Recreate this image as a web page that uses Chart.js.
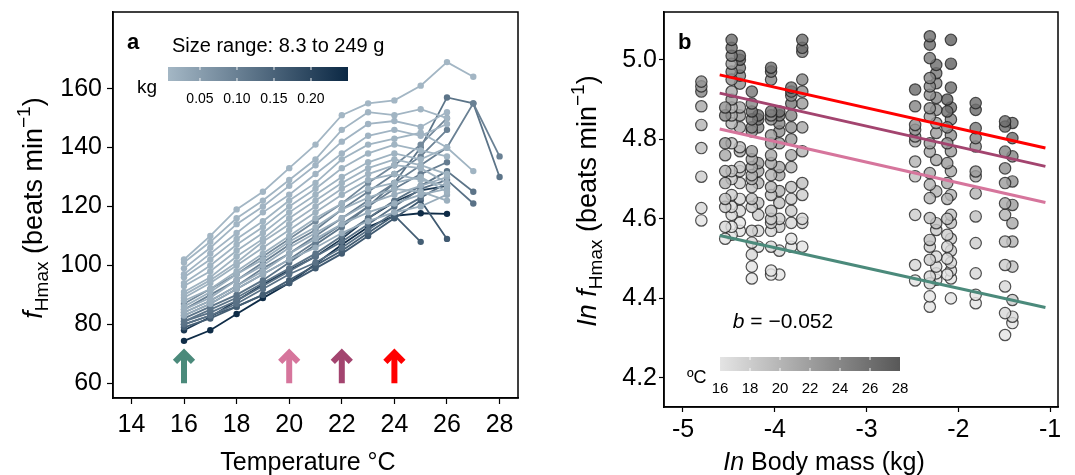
<!DOCTYPE html>
<html>
<head>
<meta charset="utf-8">
<script src="https://cdn.jsdelivr.net/npm/chart.js@4.4.1/dist/chart.umd.min.js"></script>
<style>
  body { margin: 0; background: #fff; }
  #wrap { position: relative; width: 1075px; height: 475px; }
  #chart-a { position: absolute; left: 0; top: 0; }
  #chart-b { position: absolute; left: 545px; top: 0; }
</style>
</head>
<body>
<div id="wrap">
  <canvas id="chart-a" width="545" height="475"></canvas>
  <canvas id="chart-b" width="530" height="475"></canvas>
</div>
<script>
// Panel a: heart rate of each fish against temperature
const tempsA = [16, 17, 18, 19, 20, 21, 22, 23, 24, 25, 26, 27, 28];
const tempTicks = [14, 16, 18, 20, 22, 24, 26, 28];
const rateTicks = [60, 80, 100, 120, 140, 160];
const arrowTemps = [16, 20, 22, 24];
const massTicksKg = [0.05, 0.10, 0.15, 0.20];

const fishMass = [
  0.0082, 0.0107, 0.0114, 0.0114, 0.0125, 0.0125, 0.0143, 0.0143,
  0.0153, 0.0176, 0.0176, 0.0193, 0.0219, 0.024, 0.0252,
  0.0854, 0.0993, 0.0993, 0.1065, 0.121, 0.121, 0.126, 0.126, 0.159, 0.165,
  0.225, 0.244,
];
const fishRate = [
  [102, 110, 119, 125, 133, 141, 151, 155, 156, 161, 169, 164],
  [101, 108, 116, 122, 129, 136, 146, 152, 151, 153, 150],
  [99, 106, 114, 120, 127, 134, 142, 148, 149, 147, 152],
  [97, 104, 111, 118, 124, 131, 138, 144, 146, 144, 148],
  [96, 102, 109, 115, 122, 128, 136, 141, 143, 145, 140, 132],
  [94, 100, 107, 113, 120, 126, 133, 138, 141, 139, 137],
  [93, 98, 105, 111, 118, 124, 130, 135, 138, 136, 140],
  [91, 96, 103, 109, 116, 122, 128, 133, 136, 134, 131],
  [90, 95, 101, 108, 114, 120, 126, 131, 134, 133, 128],
  [89, 94, 100, 106, 112, 118, 124, 129, 131, 129, 127],
  [88, 92, 98, 104, 110, 116, 121, 126, 128, 130, 125],
  [86, 91, 97, 102, 108, 113, 119, 123, 126, 125, 122],
  [85, 89, 95, 100, 106, 111, 116, 121, 124, 127, 130],
  [84, 88, 93, 98, 104, 109, 114, 118, 121, 124, 126],
  [83, 87, 92, 97, 102, 106, 111, 115, 118, 120, 124],
  [87, 92, 97, 103, 109, 115, 121, 128, 134, 141, 150],
  [85, 90, 95, 101, 107, 112, 119, 125, 131, 137, 146],
  [84, 88, 93, 99, 104, 110, 116, 122, 128, 134, 140, 155, 137],
  [83, 87, 92, 97, 102, 108, 114, 120, 126, 131, 135],
  [82, 86, 90, 95, 101, 107, 113, 120, 128, 140, 157, 155, 130],
  [81, 85, 89, 94, 99, 104, 110, 116, 122, 127, 132, 125],
  [81, 84, 88, 93, 98, 103, 108, 114, 120, 126, 129, 121],
  [80, 83, 87, 92, 97, 101, 106, 112, 118, 123, 128],
  [79, 82, 86, 90, 95, 100, 105, 111, 117, 108],
  [80, 83, 86, 90, 94, 99, 104, 110, 116, 122, 109],
  [78, 82.5, 88, 93.5, 98.4, 103, 109, 116, 121.5, 125.5, 127],
  [74.4, 78, 83.5, 88.9, 94, 100.5, 107, 113, 116.8, 117.7, 117.5],
];

// Panel b: ln heart rate against ln body mass, one column per body mass
const massLn = [-4.80, -4.54, -4.47, -4.38, -4.25, -4.18, -4.04, -3.95, -3.82, -3.70,
  -2.47, -2.31, -2.24, -2.12, -2.08, -1.81, -1.49, -1.41];
const lnRate = [
  [4.596, 4.627, 4.706, 4.778, 4.836, 4.883, 4.920, 4.933, 4.945],
  [4.55, 4.58, 4.63, 4.65, 4.69, 4.72, 4.76, 4.79, 4.86, 4.88],
  [4.56, 4.58, 4.61, 4.63, 4.66, 4.70, 4.72, 4.79, 4.84, 4.86, 4.88, 4.90, 4.92, 4.95, 4.97, 4.99, 5.01, 5.03, 5.05],
  [4.57, 4.59, 4.62, 4.65, 4.69, 4.72, 4.73, 4.77, 4.78, 4.83, 4.86, 4.88, 4.94, 4.96, 4.98, 5.00, 5.01],
  [4.45, 4.48, 4.51, 4.54, 4.57, 4.63, 4.65, 4.68, 4.70, 4.71, 4.73, 4.75, 4.77, 4.82, 4.83, 4.85, 4.87, 4.89, 4.92],
  [4.53, 4.57, 4.61, 4.64, 4.69, 4.72, 4.74, 4.83, 4.85, 4.86],
  [4.46, 4.47, 4.53, 4.57, 4.59, 4.60, 4.62, 4.66, 4.68, 4.71, 4.74, 4.76, 4.79, 4.81, 4.85, 4.86, 4.87, 4.95, 4.97, 4.98],
  [4.46, 4.52, 4.58, 4.60, 4.64, 4.67, 4.71, 4.73, 4.79, 4.82, 4.84, 4.86, 4.87],
  [4.53, 4.55, 4.59, 4.62, 4.65, 4.68, 4.73, 4.76, 4.80, 4.83, 4.86, 4.89, 4.91, 4.92, 4.93],
  [4.53, 4.59, 4.60, 4.66, 4.69, 4.77, 4.83, 4.89, 4.92, 4.95, 5.02, 5.03, 5.05],
  [4.445, 4.484, 4.61, 4.707, 4.744, 4.795, 4.807, 4.824, 4.836, 4.883, 4.925],
  [4.379, 4.405, 4.438, 4.455, 4.497, 4.53, 4.547, 4.602, 4.652, 4.686, 4.715, 4.769, 4.79, 4.857, 4.878, 4.912, 4.933, 4.954, 5.004, 5.038, 5.059],
  [4.447, 4.463, 4.48, 4.505, 4.572, 4.589, 4.669, 4.748, 4.816, 4.841, 4.874, 4.904, 4.941, 4.966, 4.987],
  [4.46, 4.50, 4.53, 4.56, 4.60, 4.65, 4.69, 4.74, 4.79, 4.83, 4.87, 4.90],
  [4.40, 4.45, 4.47, 4.49, 4.52, 4.55, 4.59, 4.61, 4.66, 4.72, 4.77, 4.81, 4.85, 4.88, 4.93, 4.99, 5.05],
  [4.388, 4.409, 4.463, 4.539, 4.606, 4.664, 4.707, 4.719, 4.782, 4.803, 4.828, 4.874, 4.891],
  [4.308, 4.363, 4.43, 4.484, 4.543, 4.61, 4.639, 4.69, 4.727, 4.769, 4.832, 4.845],
  [4.338, 4.354, 4.396, 4.48, 4.543, 4.589, 4.635, 4.694, 4.757, 4.803, 4.841],
];
const lnTemp = [
  [16, 17, 18, 19, 20, 21, 24, 22, 23],
  [16, 17, 18, 19, 20, 20, 21, 22, 24, 23],
  [16, 16, 17, 17, 18, 18, 19, 19, 20, 21, 20, 22, 21, 23, 24, 22, 25, 26, 26],
  [16, 16, 17, 17, 18, 19, 18, 20, 19, 21, 22, 21, 23, 24, 25, 26, 26],
  [16, 16, 17, 17, 18, 18, 19, 19, 20, 20, 21, 21, 22, 23, 24, 25, 26, 24, 25],
  [16, 17, 18, 19, 20, 21, 22, 24, 25, 26],
  [16, 16, 17, 17, 18, 18, 19, 19, 20, 20, 21, 21, 22, 22, 23, 24, 25, 24, 25, 26],
  [16, 17, 18, 18, 19, 20, 21, 21, 22, 23, 24, 25, 26],
  [16, 16, 17, 18, 18, 19, 20, 21, 22, 23, 24, 25, 24, 26, 25],
  [16, 17, 17, 18, 19, 20, 21, 22, 23, 24, 25, 26, 26],
  [16, 17, 18, 19, 20, 21, 22, 22, 23, 24, 26],
  [16, 16, 17, 17, 18, 18, 19, 19, 20, 20, 21, 21, 22, 22, 23, 23, 24, 24, 25, 26, 26],
  [16, 16, 17, 17, 18, 19, 20, 21, 22, 22, 23, 24, 24, 25, 26],
  [16, 17, 17, 18, 19, 20, 21, 22, 23, 24, 26, 27],
  [16, 16, 17, 17, 18, 18, 19, 19, 20, 21, 22, 23, 24, 26, 26, 27, 27],
  [16, 16, 17, 18, 19, 20, 21, 22, 23, 24, 25, 26, 26],
  [16, 17, 17, 18, 19, 20, 21, 22, 23, 24, 26, 26],
  [16, 17, 18, 19, 20, 21, 22, 23, 24, 26, 26],
];

// fitted lines at 24, 22, 20 and 16 degrees
const fitX = [-4.6, -1.05];
const fitY = [
  [4.962, 4.778],
  [4.916, 4.732],
  [4.826, 4.641],
  [4.558, 4.377],
];
const massLnTicks = [-5, -4, -3, -2, -1];
const lnRateTicks = [4.2, 4.4, 4.6, 4.8, 5.0];
const tempLegendTicks = [16, 18, 20, 22, 24, 26, 28];

const FONT = "'Liberation Sans', Arial, sans-serif";
Chart.defaults.font.family = FONT;
Chart.defaults.color = '#000';

const tempColours = ['#ff0000', '#a3446f', '#d6759c', '#4b8a7b']; // 24, 22, 20, 16

function massColour(m) {
	const t = Math.min(1, Math.max(0, (m - 0.0068) / (0.25 - 0.0068)));
	const a = [164, 183, 197];
	const b = [11, 40, 68];
	const c = a.map((v, i) => Math.round(v + (b[i] - v) * t));
	return `rgb(${c[0]},${c[1]},${c[2]})`;
}

function tempFill(t) {
	const g = Math.round(228 - ((t - 16) / 12) * 140);
	return `rgba(${g},${g},${g},0.82)`;
}

// text made of pieces with their own font and baseline shift
function richText(ctx, parts, x, y, rotate) {
	ctx.save();
	ctx.translate(x, y);
	if (rotate) ctx.rotate(-Math.PI / 2);
	let w = 0;
	parts.forEach((p) => {
		ctx.font = p.font;
		p.w = ctx.measureText(p.text).width;
		w += p.w;
	});
	let cx = -w / 2;
	ctx.fillStyle = '#000';
	ctx.textAlign = 'left';
	ctx.textBaseline = 'alphabetic';
	parts.forEach((p) => {
		ctx.font = p.font;
		ctx.fillText(p.text, cx, p.dy || 0);
		cx += p.w;
	});
	ctx.restore();
}

function drawFrame(chart) {
	const { ctx, chartArea: a } = chart;
	ctx.save();
	ctx.strokeStyle = '#000';
	ctx.lineWidth = 1.5;
	ctx.strokeRect(a.left, a.top, a.right - a.left, a.bottom - a.top);
	ctx.restore();
}

function colourBar(ctx, x0, y0, w, h, from, to, tickXs) {
	const g = ctx.createLinearGradient(x0, 0, x0 + w, 0);
	g.addColorStop(0, from);
	g.addColorStop(1, to);
	ctx.fillStyle = g;
	ctx.fillRect(x0, y0, w, h);
	ctx.strokeStyle = 'rgba(255,255,255,0.9)';
	ctx.lineWidth = 1;
	tickXs.forEach((x) => {
		ctx.beginPath();
		ctx.moveTo(x, y0);
		ctx.lineTo(x, y0 + 3);
		ctx.moveTo(x, y0 + h - 3);
		ctx.lineTo(x, y0 + h);
		ctx.stroke();
	});
}

const main = `25px ${FONT}`;
const ital = `italic 25px ${FONT}`;
const titleMain = `27px ${FONT}`;
const titleItal = `italic 27px ${FONT}`;
const titleSmall = `19px ${FONT}`;

// Panel a extras: frame, arrows, size legend, axis titles
const panelA = {
	id: 'panelA',
	afterDraw(chart) {
		const { ctx } = chart;
		const xs = chart.scales.x;
		const ys = chart.scales.y;
		drawFrame(chart);

		// arrows marking the test temperatures
		const yb = ys.getPixelForValue(60);
		const yt = ys.getPixelForValue(71);
		arrowTemps.forEach((t, i) => {
			const x = xs.getPixelForValue(t);
			ctx.save();
			ctx.strokeStyle = tempColours[3 - i];
			ctx.lineWidth = 6;
			ctx.lineJoin = 'miter';
			ctx.beginPath();
			ctx.moveTo(x, yb);
			ctx.lineTo(x, yt + 3);
			ctx.stroke();
			ctx.beginPath();
			ctx.moveTo(x - 9, yt + 11);
			ctx.lineTo(x, yt + 2);
			ctx.lineTo(x + 9, yt + 11);
			ctx.stroke();
			ctx.restore();
		});

		ctx.save();
		ctx.fillStyle = '#000';
		ctx.font = `bold 22px ${FONT}`;
		ctx.fillText('a', 127, 49);
		ctx.font = `20px ${FONT}`;
		ctx.fillText('Size range: 8.3 to 249 g', 172, 52);
		ctx.font = `19px ${FONT}`;
		ctx.fillText('kg', 137, 93);

		const bx = 168, bw = 180;
		const toX = (m) => bx + ((m - 0.0068) / (0.25 - 0.0068)) * bw;
		colourBar(ctx, bx, 67, bw, 14, massColour(0.0068), massColour(0.25), massTicksKg.map(toX));
		ctx.fillStyle = '#000';
		ctx.font = `14px ${FONT}`;
		ctx.textAlign = 'center';
		massTicksKg.forEach((m) => ctx.fillText(m.toFixed(2), toX(m), 103));
		ctx.restore();

		richText(ctx, [{ text: 'Temperature °C', font: main }], 308, 470, false);
		richText(ctx, [
			{ text: 'f', font: titleItal },
			{ text: 'Hmax', font: titleSmall, dy: 6 },
			{ text: ' (beats min', font: titleMain },
			{ text: '\u22121', font: titleSmall, dy: -12 },
			{ text: ')', font: titleMain },
		], 42, 208, true);
	},
};

// Panel b extras: frame, slope label, temperature legend, axis titles
const panelB = {
	id: 'panelB',
	afterDraw(chart) {
		const { ctx } = chart;
		const off = 545;
		drawFrame(chart);
		ctx.save();
		ctx.fillStyle = '#000';
		ctx.font = `bold 22px ${FONT}`;
		ctx.fillText('b', 678 - off, 49);
		ctx.restore();

		richText(ctx, [
			{ text: 'b', font: `italic 21px ${FONT}` },
			{ text: ' = \u22120.052', font: `21px ${FONT}` },
		], 783 - off, 328, false);

		const bx = 720 - off, bw = 180;
		const toX = (t) => bx + ((t - 16) / 12) * bw;
		ctx.save();
		colourBar(ctx, bx, 357, bw, 14, 'rgb(228,228,228)', 'rgb(88,88,88)', tempLegendTicks.slice(1, -1).map(toX));
		ctx.fillStyle = '#000';
		ctx.font = `18px ${FONT}`;
		ctx.fillText('ºC', 687 - off, 383);
		ctx.font = `15px ${FONT}`;
		ctx.textAlign = 'center';
		tempLegendTicks.forEach((t) => ctx.fillText(String(t), toX(t), 393));
		ctx.restore();

		richText(ctx, [
			{ text: 'In', font: ital },
			{ text: ' Body mass (kg)', font: main },
		], 824 - off, 470, false);
		richText(ctx, [
			{ text: 'In f', font: titleItal },
			{ text: 'Hmax', font: titleSmall, dy: 6 },
			{ text: ' (beats min', font: titleMain },
			{ text: '\u22121', font: titleSmall, dy: -12 },
			{ text: ')', font: titleMain },
		], 596 - off, 201, true);
	},
};

function axis(min, max, tickValues, fitSize, opts) {
	return {
		type: 'linear',
		min: min,
		max: max,
		afterBuildTicks: (s) => {
			s.ticks = tickValues.map((v) => ({ value: v }));
		},
		afterFit: (s) => {
			if (s.isHorizontal()) s.height = fitSize;
			else s.width = fitSize;
			s.paddingTop = 0;
			s.paddingBottom = 0;
			s.paddingLeft = 0;
			s.paddingRight = 0;
		},
		grid: { drawOnChartArea: false, color: '#000', tickLength: opts.tickLength, tickWidth: 1.2 },
		border: { color: '#000', width: 1.5 },
		ticks: {
			color: '#000',
			font: { size: 25 },
			padding: opts.padding,
			maxRotation: 0,
			autoSkip: false,
			callback: opts.format,
		},
	};
}

// Panel a chart
!(function () {
	const ctx = document.getElementById('chart-a');

	new Chart(ctx, {
		type: 'line',
		data: {
			datasets: fishRate.map((rates, i) => ({
				data: rates.map((v, j) => ({ x: tempsA[j], y: v })),
				borderColor: massColour(fishMass[i]),
				backgroundColor: massColour(fishMass[i]),
				borderWidth: 1.8,
				pointRadius: 3.2,
				pointBorderWidth: 0,
			})),
		},
		options: {
			responsive: false,
			animation: false,
			layout: { padding: { top: 12, right: 27, left: 0, bottom: 0 } },
			plugins: { legend: { display: false }, tooltip: { enabled: false } },
			scales: {
				x: axis(13.3, 28.7, tempTicks, 77, { tickLength: 6, padding: 6, format: (v) => String(v) }),
				y: axis(55, 186, rateTicks, 113, { tickLength: 6, padding: 5, format: (v) => String(v) }),
			},
		},
		plugins: [panelA],
	});
})();

// Panel b chart
!(function () {
	const ctx = document.getElementById('chart-b');

	const lines = fitY.map((ys, i) => ({
		data: fitX.map((x, j) => ({ x: x, y: ys[j] })),
		showLine: true,
		borderColor: tempColours[i],
		borderWidth: 3,
		pointRadius: 0,
		order: 0,
	}));
	const points = lnRate.map((ys, i) => ({
		data: ys.map((y) => ({ x: massLn[i], y: y })),
		backgroundColor: lnTemp[i].map(tempFill),
		borderColor: 'rgba(25,25,25,0.75)',
		borderWidth: 1.2,
		pointRadius: 5.7,
		order: 1,
	}));

	new Chart(ctx, {
		type: 'scatter',
		data: { datasets: lines.concat(points) },
		options: {
			responsive: false,
			animation: false,
			layout: { padding: { top: 12, right: 17, left: 0, bottom: 0 } },
			plugins: { legend: { display: false }, tooltip: { enabled: false } },
			scales: {
				x: axis(-5.207, -0.913, massLnTicks, 68, { tickLength: 5, padding: 3, format: (v) => String(v) }),
				y: axis(4.127, 5.12, lnRateTicks, 119, { tickLength: 5, padding: 2, format: (v) => v.toFixed(1) }),
			},
		},
		plugins: [panelB],
	});
})();
</script>
</body>
</html>
